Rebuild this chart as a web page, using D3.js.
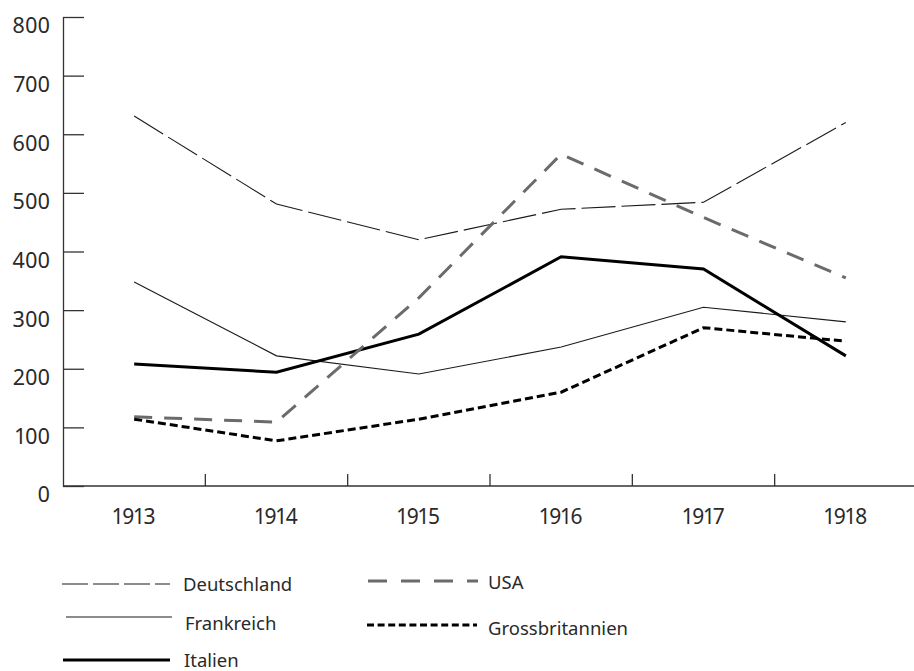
<!DOCTYPE html>
<html>
<head>
<meta charset="utf-8">
<title>Chart</title>
<style>
  body { margin: 0; background: #fff; }
  svg text { font-family: "Noto Sans", sans-serif; fill: #2a2a2a; font-variant-numeric: proportional-nums; }
</style>
</head>
<body>
<div id="chart"></div>
<script src="https://cdn.jsdelivr.net/npm/d3@7"></script>
<script>
(function(){
  "use strict";

  // data
  var years = ["1913", "1914", "1915", "1916", "1917", "1918"];
  var yTicks = [0, 100, 200, 300, 400, 500, 600, 700, 800];
  var names = ["Deutschland", "Frankreich", "Italien", "USA", "Grossbritannien"];
  var deutschland = [631, 481, 420, 472, 484, 620];
  var frankreich = [348, 222, 191, 237, 305, 280];
  var italien = [208, 194, 259, 391, 370, 222];
  var usa = [118, 109, 321, 566, 458, 355];
  var grossbritannien = [114, 77, 114, 160, 270, 247];

  var seriesValues = [deutschland, frankreich, italien, usa, grossbritannien];

  // line styles
  var styles = [
    { color: "#1a1a1a", width: 1.1, dash: "34,6", legendDash: "26,5" },
    { color: "#1a1a1a", width: 1.1, dash: null, legendDash: null },
    { color: "#000", width: 3, dash: null, legendDash: null },
    { color: "#6b6b6b", width: 3, dash: "18,12", legendDash: "19,14" },
    { color: "#000", width: 3, dash: "8,4", legendDash: "7,3.6" }
  ];

  // legend placement
  var legendPos = [
    { x1: 62, x2: 170, ly: 584, tx: 183, ty: 585 },
    { x1: 66, x2: 172, ly: 617, tx: 185, ty: 624 },
    { x1: 63, x2: 170, ly: 660, tx: 184, ty: 661 },
    { x1: 368, x2: 478, ly: 581, tx: 488, ty: 583 },
    { x1: 367, x2: 477, ly: 625, tx: 488, ty: 629 }
  ];

  var width = 914, height = 671;
  var left = 63, right = 917, top = 17, bottom = 486;

  var svg = d3.select("#chart").append("svg")
      .attr("width", width)
      .attr("height", height);

  var x = d3.scaleBand().domain(years).range([left, right]);
  var y = d3.scaleLinear().domain([0, 800]).range([bottom, top]);

  // y axis, ticks pointing into the plot
  var yAxis = svg.append("g")
      .attr("transform", "translate(" + left + ",0)")
      .call(d3.axisLeft(y).tickValues(yTicks).tickSize(-21).tickSizeOuter(0).tickPadding(13));
  yAxis.select(".domain").attr("stroke", "#333").attr("stroke-width", 1.3);
  yAxis.selectAll(".tick line").attr("stroke", "#333").attr("stroke-width", 1.3);
  yAxis.selectAll(".tick text")
      .attr("y", 9)
      .style("font-size", "21.5px")
      .attr("font-family", null);

  // x axis
  var xAxis = svg.append("g")
      .attr("transform", "translate(0," + bottom + ")")
      .call(d3.axisBottom(x).tickSize(0).tickSizeOuter(0).tickPadding(23));
  xAxis.select(".domain").attr("stroke", "#333").attr("stroke-width", 1.3)
      .attr("d", "M" + left + ",0H" + width);
  xAxis.selectAll(".tick text")
      .style("font-size", "21px")
      .attr("font-family", null);

  // boundary ticks between years
  xAxis.selectAll(".bound")
      .data(years.slice(1))
      .enter().append("line")
        .attr("x1", function(d){ return x(d); })
        .attr("x2", function(d){ return x(d); })
        .attr("y1", 0)
        .attr("y2", -12)
        .attr("stroke", "#333")
        .attr("stroke-width", 1.3);

  var line = d3.line()
      .x(function(d, i){ return x(years[i]) + x.bandwidth() / 2; })
      .y(function(d){ return y(d); });

  svg.append("g").selectAll("path")
      .data(seriesValues)
      .enter().append("path")
        .attr("d", function(d){ return line(d); })
        .attr("fill", "none")
        .attr("stroke", function(d, i){ return styles[i].color; })
        .attr("stroke-width", function(d, i){ return styles[i].width; })
        .attr("stroke-dasharray", function(d, i){ return styles[i].dash; })
        .attr("stroke-linejoin", "miter");

  // legend
  var legend = svg.append("g").selectAll("g")
      .data(names)
      .enter().append("g");

  legend.append("line")
      .attr("x1", function(d, i){ return legendPos[i].x1; })
      .attr("x2", function(d, i){ return legendPos[i].x2; })
      .attr("y1", function(d, i){ return legendPos[i].ly; })
      .attr("y2", function(d, i){ return legendPos[i].ly; })
      .attr("stroke", function(d, i){ return styles[i].color; })
      .attr("stroke-width", function(d, i){ return styles[i].width; })
      .attr("stroke-dasharray", function(d, i){ return styles[i].legendDash; });

  legend.append("text")
      .attr("x", function(d, i){ return legendPos[i].tx; })
      .attr("y", function(d, i){ return legendPos[i].ty; })
      .attr("dy", "0.35em")
      .style("font-size", "18.5px")
      .text(function(d){ return d; });

})();
</script>
</body>
</html>
